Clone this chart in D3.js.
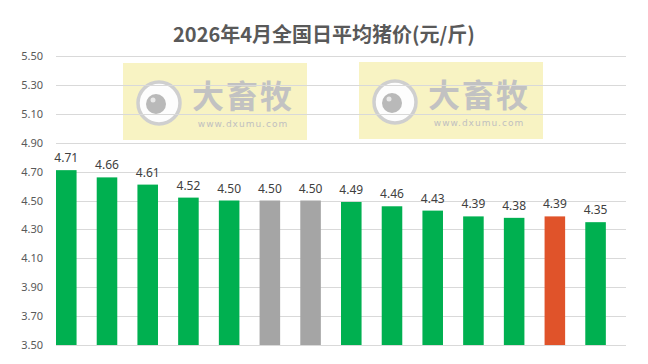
<!DOCTYPE html>
<html>
<head>
<meta charset="utf-8">
<script src="https://cdn.jsdelivr.net/npm/d3@7"></script>
<style>
  html, body { margin: 0; padding: 0; background: #fff; }
  svg { display: block; }
</style>
</head>
<body>
<svg id="chart" width="648" height="364"></svg>
<script>
const title = "2026年4月全国日平均猪价(元/斤)";
const categories = ["4月1日","4月2日","4月3日","4月4日","4月5日","4月6日","4月7日","4月8日","4月9日","4月10日","4月11日","4月12日","4月13日","4月14日"];
const values = [4.71, 4.66, 4.61, 4.52, 4.50, 4.50, 4.50, 4.49, 4.46, 4.43, 4.39, 4.38, 4.39, 4.35];
const kinds = ["normal","normal","normal","normal","normal","rest","rest","normal","normal","normal","normal","normal","mark","normal"];
const yTicks = [3.50, 3.70, 3.90, 4.10, 4.30, 4.50, 4.70, 4.90, 5.10, 5.30, 5.50];
const watermarkTitle = "大畜牧";
const watermarkUrl = "www.dxumu.com";

const colorOf = { normal: "#00b050", rest: "#a5a5a5", mark: "#e0532a" };

const svg = d3.select("#chart");
const plot = { left: 56, right: 626, top: 56, bottom: 345 };

const x = d3.scaleBand().domain(categories).range([plot.left, plot.right]).padding(0);
const barW = x.bandwidth() * 0.505;
const y = d3.scaleLinear().domain([3.5, 5.5]).range([plot.bottom, plot.top]);

// title
svg.append("text")
  .attr("x", 324).attr("y", 42)
  .attr("text-anchor", "middle")
  .attr("font-family", "'Noto Sans CJK SC', 'Noto Sans', sans-serif")
  .attr("font-weight", "bold")
  .attr("font-size", 20)
  .attr("fill", "#595959")
  .text(title);

// watermarks (behind grid)
function watermark(g) {
  g.append("rect").attr("x", 0).attr("y", 0).attr("width", 184).attr("height", 77)
    .attr("fill", "#f8f3c3");
  g.append("circle").attr("cx", 36).attr("cy", 40).attr("r", 21)
    .attr("fill", "#fdfdfd").attr("stroke", "#cfcfcf").attr("stroke-width", 3.5);
  g.append("circle").attr("cx", 33).attr("cy", 41).attr("r", 10).attr("fill", "#b9b9b9");
  g.append("circle").attr("cx", 30).attr("cy", 37).attr("r", 2.5).attr("fill", "#e8e8e8");
  g.append("text").attr("x", 120).attr("y", 45).attr("text-anchor", "middle")
    .attr("font-family", "'Noto Sans CJK SC', sans-serif").attr("font-weight", "bold")
    .attr("font-size", 32).attr("fill", "#c2c2c2").attr("letter-spacing", 2)
    .text(watermarkTitle);
  g.append("text").attr("x", 120).attr("y", 64).attr("text-anchor", "middle")
    .attr("font-family", "'DejaVu Sans', sans-serif")
    .attr("font-size", 9).attr("fill", "#c0c0c0").attr("letter-spacing", 1)
    .text(watermarkUrl);
}
watermark(svg.append("g").attr("transform", "translate(123,63)"));
watermark(svg.append("g").attr("transform", "translate(359,62)"));

// grid
const grid = svg.append("g");
grid.selectAll("line").data(yTicks).join("line")
  .attr("x1", plot.left).attr("x2", plot.right)
  .attr("y1", d => Math.round(y(d)) + 0.5).attr("y2", d => Math.round(y(d)) + 0.5)
  .attr("stroke", "#d9d9d9").attr("stroke-width", 1);

// y axis labels
const yAxis = d3.axisLeft(y).tickValues(yTicks).tickFormat(d3.format(".2f")).tickSize(0).tickPadding(0);
const ag = svg.append("g").attr("transform", "translate(43,0)").call(yAxis);
ag.select(".domain").remove();
ag.selectAll("text")
  .attr("font-family", "'Noto Sans', sans-serif")
  .attr("font-size", 11)
  .attr("fill", "#595959");

// bars
svg.append("g").selectAll("rect").data(values).join("rect")
  .attr("x", (d, i) => x(categories[i]))
  .attr("width", barW)
  .attr("y", d => y(d))
  .attr("height", d => y(3.5) - y(d))
  .attr("fill", (d, i) => colorOf[kinds[i]]);

// labels
svg.append("g").selectAll("text").data(values).join("text")
  .attr("x", (d, i) => x(categories[i]) + barW / 2)
  .attr("y", d => y(d) - 8)
  .attr("text-anchor", "middle")
  .attr("font-family", "'Noto Sans', sans-serif")
  .attr("font-size", 12)
  .attr("fill", "#404040")
  .text(d => d.toFixed(2));
</script>
</body>
</html>
